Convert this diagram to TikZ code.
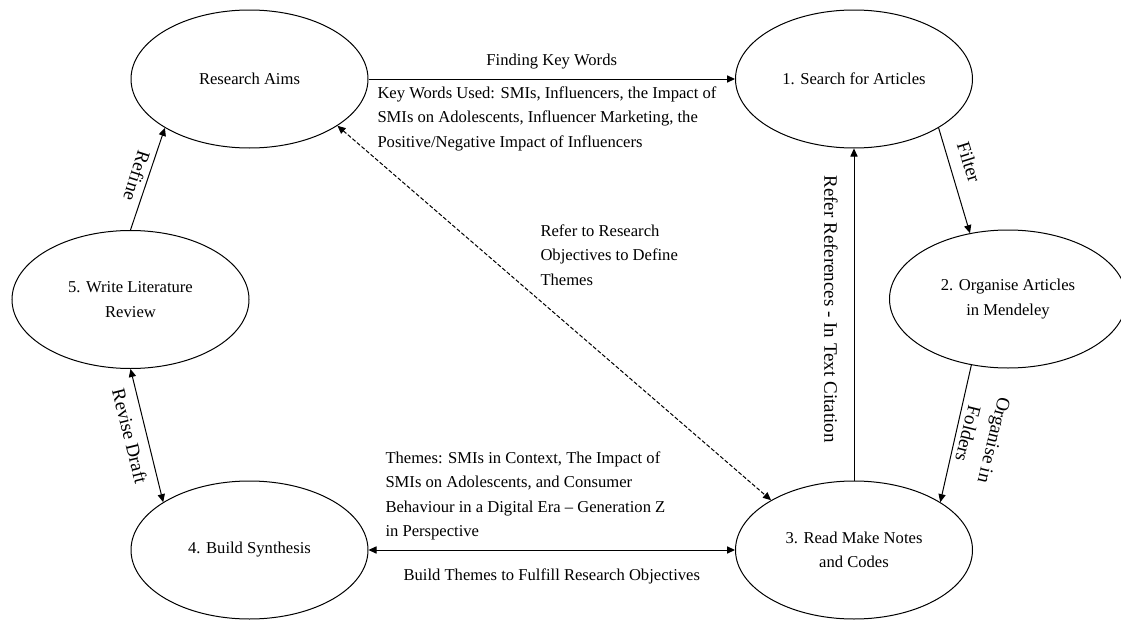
\documentclass[tikz,border=0pt]{standalone}
\usepackage{fontspec}
\setmainfont{Liberation Serif}
\usetikzlibrary{shapes.geometric,arrows.meta}

\begin{document}
\begin{tikzpicture}[x=0.5pt, y=-0.5pt, line width=0.5pt,
  >={Triangle[length=4pt,width=3.6pt]},
  stage/.style={ellipse, draw, minimum width=118.5pt, minimum height=69pt,
                inner sep=0pt, align=center, font=\fontsize{8.3}{12.15}\selectfont},
  txt/.style={inner sep=0pt, align=left, font=\fontsize{8.3}{12.15}\selectfont},
  turned/.style={inner sep=0pt, align=center, font=\fontsize{9.5}{13.5}\selectfont}]
\useasboundingbox (0,0) rectangle (1121,621);

% stages
\node  [stage] (aims)     at (249.5,79)    {Research Aims};
\node  [stage] (search)   at (854,79)      {1. Search for Articles};
\node  [stage] (organise) at (1008,299)    {2. Organise Articles\\in Mendeley};
\node  [stage] (read)     at (854,550)     {3. Read Make Notes\\and Codes};
\node  [stage] (synth)    at (249.5,550)   {4. Build Synthesis};
\node  [stage] (write)    at (130.5,299.5) {5. Write Literature\\Review};


%------------------------------------------------------
% arrows
\draw   [->]   (aims) -- node[txt, above=4.7pt] (findkw) {Finding Key Words} (search);
\draw   [->]   (search.-30.3) -- (organise.120);
\draw   [->]   (organise.-119) -- (read.29.5);
\draw   [->]   (read) -- (search);
\draw   [->]   (write.north) -- (aims.-150);
\draw   [<->]  (write.south) -- (synth.151.5);
\draw   [<->]  (synth) -- node[txt, below=9.2pt] (build) {Build Themes to Fulfill Research Objectives} (read);
\draw   [<->, dash pattern=on 2pt off 1pt]   (aims.-28.5) -- (read.149);


% labels
\node  [txt, anchor=north west] (kwused) at (377,86.5)
       {Key Words Used: SMIs, Influencers, the Impact of\\SMIs on Adolescents, Influencer Marketing, the\\Positive/Negative Impact of Influencers};
\node  [txt, anchor=north west] (objectives) at (540,224.5)
       {Refer to Research\\Objectives to Define\\Themes};
\node  [txt, anchor=north west] (themes) at (385,451.5)
       {Themes: SMIs in Context, The Impact of\\SMIs on Adolescents, and Consumer\\Behaviour in a Digital Era – Generation Z\\in Perspective};

\node  [turned, rotate=-90]    (citation) at (831,309)  {Refer References - In Text Citation};
\node  [turned, rotate=-72.6]  (filter)   at (969,162)  {Filter};
\node  [turned, rotate=-104]   (folders)  at (981,437)  {Organise in\\Folders};
\node  [turned, rotate=-107.8] (refine)   at (137,176)  {Refine};
\node  [turned, rotate=-76]    (revise)   at (130,436)  {Revise Draft};
\end{tikzpicture}
\end{document}
